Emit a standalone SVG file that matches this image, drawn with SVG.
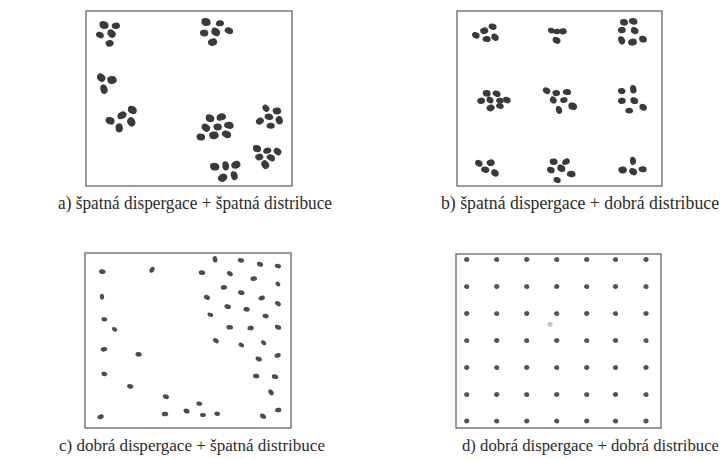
<svg xmlns="http://www.w3.org/2000/svg" xmlns:xlink="http://www.w3.org/1999/xlink" width="723" height="459" viewBox="0 0 723 459">
  <style>
    .frame { fill: none; stroke: #707070; stroke-width: 1.4; }
    .cap { font-family: "Liberation Serif", "Times New Roman", serif; font-size: 17.8px; fill: #2b2b2b; }
    .cap2 { font-family: "Liberation Serif", "Times New Roman", serif; font-size: 16.8px; fill: #2b2b2b; }
    .big { fill: #3a3a3a; }
    .mid { fill: #4d4d4d; }
    .dot { fill: #555555; }
  </style>
  <defs>
    <!-- irregular particle shapes -->
    <g id="p1" transform="scale(1.18)"><path d="M-4,-0.8 C-4.1,-2.9 -1.4,-3.6 0.8,-3.2 C3.2,-2.9 4.3,-0.9 3.9,1.1 C3.5,3 1.1,3.6 -1.1,3.2 C-3.1,2.9 -3.9,1.2 -4,-0.8Z"/></g>
    <g id="p2" transform="scale(1.18)"><path d="M-3.8,-1.5 C-3,-3.4 0,-3.3 2,-2.6 C3.9,-1.8 4.1,0.6 3.2,2.1 C2.1,3.6 -0.6,3.4 -2.3,2.6 C-3.9,1.7 -4.4,0.1 -3.8,-1.5Z"/></g>
    <g id="p3" transform="scale(1.18)"><path d="M-4.2,0 C-3.8,-2.4 -1.9,-3.1 0.4,-3 C2.8,-2.9 4,-1.5 4,0.4 C4,2.3 2.3,3.2 0,3 C-2.1,2.9 -4.4,2 -4.2,0Z"/></g>
    <g id="s1" transform="scale(1.1)"><path d="M-3,-0.3 C-3,-1.8 -1.2,-2.2 0.5,-2.1 C2.2,-2 3.1,-1 3,0.3 C2.9,1.7 1.3,2.2 -0.4,2.1 C-2,2 -3,1.2 -3,-0.3Z"/></g>
    <g id="s2" transform="scale(1.1)"><path d="M-2.8,-0.8 C-2.2,-2.2 0.2,-2.3 1.6,-1.7 C3,-1.1 3.1,0.6 2.3,1.5 C1.3,2.4 -0.8,2.3 -2,1.6 C-3,1 -3.2,0.2 -2.8,-0.8Z"/></g>
    <g id="d1" transform="scale(1.15)"><path d="M-2.3,0 C-2.3,-1.4 -1.2,-2.2 0.1,-2.2 C1.5,-2.2 2.3,-1.2 2.3,0.1 C2.3,1.4 1.3,2.2 0,2.2 C-1.3,2.2 -2.3,1.3 -2.3,0Z"/></g>
    <g id="d2" transform="scale(1.15)"><path d="M-2.2,-0.6 C-1.8,-1.9 -0.3,-2.3 1,-1.9 C2.2,-1.4 2.5,0.2 2,1.2 C1.3,2.3 -0.5,2.3 -1.5,1.6 C-2.3,1 -2.5,0.3 -2.2,-0.6Z"/></g>
  </defs>

  <!-- a) clustered particles, uneven placement -->
  <g id="panel-a">
    <rect class="frame" x="86" y="11" width="206" height="175"/>
    <g class="big">
      <use href="#p1" transform="translate(104,25) rotate(10)"/>
      <use href="#p2" transform="translate(116,25.7) rotate(-15) scale(0.9)"/>
      <use href="#p3" transform="translate(100,35) rotate(20) scale(0.85)"/>
      <use href="#p2" transform="translate(111.7,33.7) rotate(40)"/>
      <use href="#p1" transform="translate(109.7,43.3) rotate(-20) scale(0.85)"/>

      <use href="#p1" transform="translate(206,22) rotate(5)"/>
      <use href="#p3" transform="translate(220,23.3) rotate(-10) scale(0.85)"/>
      <use href="#p2" transform="translate(204.3,33) rotate(-5) scale(0.9)"/>
      <use href="#p1" transform="translate(215.7,32) rotate(30)"/>
      <use href="#p3" transform="translate(229,30.7) rotate(15) scale(0.9)"/>
      <use href="#p2" transform="translate(212.7,42) rotate(-25)"/>

      <use href="#p2" transform="translate(101.3,77.7) rotate(35)"/>
      <use href="#p1" transform="translate(112,80) rotate(-10)"/>
      <use href="#p3" transform="translate(104,89.3) rotate(70)"/>

      <use href="#p1" transform="translate(132.3,110) rotate(20)"/>
      <use href="#p3" transform="translate(122,115.3) rotate(-30)"/>
      <use href="#p2" transform="translate(110.3,120.7) rotate(10)"/>
      <use href="#p1" transform="translate(131.3,122) rotate(55)"/>
      <use href="#p2" transform="translate(119.3,128) rotate(75)"/>

      <use href="#p1" transform="translate(210,118.3) rotate(15) scale(0.95)"/>
      <use href="#p3" transform="translate(221.3,117) rotate(-20)"/>
      <use href="#p2" transform="translate(206,127.7) rotate(30)"/>
      <use href="#p1" transform="translate(217.7,127) rotate(-5) scale(0.9)"/>
      <use href="#p3" transform="translate(229,125.3) rotate(5)"/>
      <use href="#p2" transform="translate(201,137) rotate(0) scale(0.95)"/>
      <use href="#p1" transform="translate(214,135.3) rotate(-10)"/>
      <use href="#p3" transform="translate(226.7,134.3) rotate(20)"/>

      <use href="#p2" transform="translate(266,108.3) rotate(40) scale(0.85)"/>
      <use href="#p1" transform="translate(277,111) rotate(-10) scale(0.9)"/>
      <use href="#p3" transform="translate(269,116.7) rotate(10) scale(0.9)"/>
      <use href="#p2" transform="translate(260,121) rotate(-40) scale(0.9)"/>
      <use href="#p1" transform="translate(279.3,120.3) rotate(60) scale(0.9)"/>
      <use href="#p3" transform="translate(270.7,125.7) rotate(-5) scale(0.85)"/>

      <use href="#p1" transform="translate(257,148.7) rotate(10) scale(0.9)"/>
      <use href="#p3" transform="translate(267.3,150.7) rotate(-15) scale(0.85)"/>
      <use href="#p2" transform="translate(277.7,151.7) rotate(30) scale(0.9)"/>
      <use href="#p1" transform="translate(259.3,157) rotate(-20) scale(0.85)"/>
      <use href="#p3" transform="translate(271,157.7) rotate(25) scale(0.9)"/>
      <use href="#p2" transform="translate(265.3,164.7) rotate(50)"/>

      <use href="#p1" transform="translate(214.7,166.7) rotate(0)"/>
      <use href="#p3" transform="translate(225.7,166) rotate(80) scale(0.95)"/>
      <use href="#p2" transform="translate(236,164.7) rotate(-30)"/>
      <use href="#p1" transform="translate(222.7,177.7) rotate(-40)"/>
      <use href="#p3" transform="translate(234.3,175.7) rotate(70) scale(0.95)"/>
    </g>
  </g>

  <!-- b) clustered particles on a regular 3x3 layout -->
  <g id="panel-b">
    <rect class="frame" x="457" y="11" width="205" height="175"/>
    <g class="big">
      <use href="#p3" transform="translate(492.7,26.7) rotate(10) scale(0.85)"/>
      <use href="#p1" transform="translate(484.3,30.7) rotate(-20) scale(0.85)"/>
      <use href="#p2" transform="translate(476,35.3) rotate(15) scale(0.85)"/>
      <use href="#p3" transform="translate(486.7,39) rotate(0) scale(0.85)"/>
      <use href="#p1" transform="translate(495,37.3) rotate(30) scale(0.85)"/>

      <use href="#p2" transform="translate(551.5,30.5) rotate(10) scale(0.75)"/>
      <use href="#p3" transform="translate(557,31.5) rotate(0) scale(0.75)"/>
      <use href="#p1" transform="translate(563,31.3) rotate(-10) scale(0.8)"/>
      <use href="#p2" transform="translate(556.7,40.3) rotate(20) scale(0.9)"/>

      <use href="#p1" transform="translate(624,22.3) rotate(0) scale(0.85)"/>
      <use href="#p3" transform="translate(633.3,21.3) rotate(10) scale(0.9)"/>
      <use href="#p2" transform="translate(622,30) rotate(-10) scale(0.85)"/>
      <use href="#p1" transform="translate(634.7,30.7) rotate(20) scale(0.85)"/>
      <use href="#p3" transform="translate(621.7,40.3) rotate(60) scale(0.9)"/>
      <use href="#p2" transform="translate(632.7,42) rotate(-20) scale(0.95)"/>
      <use href="#p1" transform="translate(643,39.3) rotate(10) scale(0.85)"/>

      <use href="#p1" transform="translate(486.7,93.3) rotate(0) scale(0.85)"/>
      <use href="#p3" transform="translate(496.7,93.7) rotate(20) scale(0.85)"/>
      <use href="#p2" transform="translate(481.3,100.7) rotate(-10) scale(0.85)"/>
      <use href="#p1" transform="translate(490,100) rotate(30) scale(0.8)"/>
      <use href="#p3" transform="translate(500,100.5) rotate(0) scale(0.8)"/>
      <use href="#p2" transform="translate(507,100) rotate(15) scale(0.85)"/>
      <use href="#p1" transform="translate(490.7,108) rotate(-30) scale(0.85)"/>
      <use href="#p3" transform="translate(500,106) rotate(10) scale(0.8)"/>

      <use href="#p2" transform="translate(546.7,90.7) rotate(20) scale(0.85)"/>
      <use href="#p1" transform="translate(556.3,93) rotate(-10) scale(0.8)"/>
      <use href="#p3" transform="translate(567,92) rotate(0) scale(0.85)"/>
      <use href="#p1" transform="translate(553.3,100) rotate(40) scale(0.8)"/>
      <use href="#p2" transform="translate(564,100) rotate(-20) scale(0.8)"/>
      <use href="#p3" transform="translate(559,110) rotate(70) scale(0.85)"/>
      <use href="#p1" transform="translate(572.7,106.3) rotate(10) scale(0.95)"/>

      <use href="#p1" transform="translate(621.7,91) rotate(0) scale(0.8)"/>
      <use href="#p3" transform="translate(633.3,89.3) rotate(80) scale(0.9)"/>
      <use href="#p2" transform="translate(622,100.7) rotate(-10) scale(0.85)"/>
      <use href="#p1" transform="translate(634.3,100.7) rotate(10) scale(0.85)"/>
      <use href="#p3" transform="translate(629.3,110.7) rotate(0) scale(0.8)"/>
      <use href="#p2" transform="translate(643.3,107.3) rotate(20) scale(0.85)"/>

      <use href="#p2" transform="translate(479,163.3) rotate(20) scale(0.85)"/>
      <use href="#p1" transform="translate(490.7,162.7) rotate(-20) scale(0.85)"/>
      <use href="#p3" transform="translate(485.3,169.7) rotate(10) scale(0.85)"/>
      <use href="#p1" transform="translate(495,173) rotate(30) scale(0.85)"/>

      <use href="#p1" transform="translate(553.7,161.7) rotate(0) scale(0.85)"/>
      <use href="#p3" transform="translate(566,161.7) rotate(-30) scale(0.85)"/>
      <use href="#p2" transform="translate(551,170) rotate(10) scale(0.85)"/>
      <use href="#p1" transform="translate(561.3,168.3) rotate(20) scale(0.9)"/>
      <use href="#p3" transform="translate(571.3,174) rotate(0) scale(0.9)"/>
      <use href="#p2" transform="translate(557.3,180) rotate(10) scale(0.8)"/>

      <use href="#p3" transform="translate(633,161) rotate(80) scale(0.85)"/>
      <use href="#p1" transform="translate(622.7,170) rotate(-10) scale(0.9)"/>
      <use href="#p2" transform="translate(633.3,171.7) rotate(20) scale(0.9)"/>
      <use href="#p3" transform="translate(642.7,169.3) rotate(0) scale(0.85)"/>
    </g>
  </g>

  <!-- c) separate particles, uneven placement -->
  <g id="panel-c">
    <rect class="frame" x="85" y="253" width="206" height="175"/>
    <g class="mid">
      <use href="#s1" transform="translate(102.3,271.7) rotate(0)"/>
      <use href="#s2" transform="translate(152,269.7) rotate(-60)"/>
      <use href="#s1" transform="translate(215,259.3) rotate(80)"/>
      <use href="#s2" transform="translate(241,260.3) rotate(10)"/>
      <use href="#s1" transform="translate(260,264.3) rotate(20)"/>
      <use href="#s2" transform="translate(278,266) rotate(10)"/>
      <use href="#s1" transform="translate(202,272.7) rotate(0)"/>
      <use href="#s2" transform="translate(230,273.7) rotate(30)"/>
      <use href="#s1" transform="translate(253.7,278.7) rotate(-10)"/>
      <use href="#s2" transform="translate(278,284) rotate(40) scale(0.85)"/>
      <use href="#s1" transform="translate(102,296.7) rotate(80) scale(0.9)"/>
      <use href="#s2" transform="translate(224,287.3) rotate(-10)"/>
      <use href="#s1" transform="translate(241.3,292.7) rotate(10)"/>
      <use href="#s2" transform="translate(207,297.3) rotate(20)"/>
      <use href="#s1" transform="translate(261.7,298) rotate(-20)"/>
      <use href="#s2" transform="translate(278,303.7) rotate(30)"/>
      <use href="#s1" transform="translate(227.7,306.7) rotate(10)"/>
      <use href="#s2" transform="translate(246.7,309.3) rotate(0)"/>
      <use href="#s1" transform="translate(210.3,314.7) rotate(20) scale(0.9)"/>
      <use href="#s2" transform="translate(265.7,316) rotate(10)"/>
      <use href="#s1" transform="translate(104.3,319.3) rotate(10) scale(0.9)"/>
      <use href="#s2" transform="translate(114.7,329.3) rotate(30) scale(0.9)"/>
      <use href="#s1" transform="translate(229.7,327.3) rotate(0)"/>
      <use href="#s2" transform="translate(250.7,328) rotate(-10)"/>
      <use href="#s1" transform="translate(278,327.3) rotate(20)"/>
      <use href="#s2" transform="translate(216,340.7) rotate(30)"/>
      <use href="#s1" transform="translate(241.3,345) rotate(30) scale(0.9)"/>
      <use href="#s2" transform="translate(263.7,342.7) rotate(40) scale(0.9)"/>
      <use href="#s1" transform="translate(104,349.3) rotate(-10)"/>
      <use href="#s2" transform="translate(138.7,354.3) rotate(0)"/>
      <use href="#s1" transform="translate(258.7,359) rotate(20)"/>
      <use href="#s2" transform="translate(277.7,355.3) rotate(-20)"/>
      <use href="#s1" transform="translate(104.3,374) rotate(10) scale(0.9)"/>
      <use href="#s2" transform="translate(256.3,376) rotate(0)"/>
      <use href="#s1" transform="translate(275,376.7) rotate(10)"/>
      <use href="#s2" transform="translate(130.3,386.3) rotate(10)"/>
      <use href="#s1" transform="translate(271,392.3) rotate(50)"/>
      <use href="#s2" transform="translate(166,396.7) rotate(20)"/>
      <use href="#s1" transform="translate(199.3,403.7) rotate(10) scale(0.9)"/>
      <use href="#s2" transform="translate(100.7,416.7) rotate(-20)"/>
      <use href="#s1" transform="translate(165,414) rotate(0)"/>
      <use href="#s2" transform="translate(186.7,411) rotate(20)"/>
      <use href="#s1" transform="translate(203,415) rotate(0) scale(0.9)"/>
      <use href="#s2" transform="translate(217.3,413.7) rotate(10) scale(0.9)"/>
      <use href="#s1" transform="translate(263,416.3) rotate(30)"/>
      <use href="#s2" transform="translate(278.3,410) rotate(-10)"/>
    </g>
  </g>

  <!-- d) separate particles on a regular 7x7 grid -->
  <g id="panel-d">
    <rect class="frame" x="456" y="254" width="205" height="174"/>
    <g class="dot">
      <use href="#d1" x="466.7" y="259.5"/><use href="#d2" x="496.7" y="259.5"/><use href="#d1" x="526.7" y="259.5"/><use href="#d2" x="556.7" y="259.5"/><use href="#d1" x="586.7" y="259.5"/><use href="#d2" x="615.5" y="259.5"/><use href="#d1" x="646" y="259.5"/>
      <use href="#d2" x="466.7" y="286.5"/><use href="#d1" x="496.7" y="286.5"/><use href="#d2" x="526.7" y="286.5"/><use href="#d1" x="556.7" y="286.5"/><use href="#d2" x="586.7" y="286.5"/><use href="#d1" x="615.5" y="286.5"/><use href="#d2" x="646" y="286.5"/>
      <use href="#d1" x="466.7" y="313.5"/><use href="#d2" x="496.7" y="313.5"/><use href="#d1" x="526.7" y="313.5"/><use href="#d2" x="556.7" y="313.5"/><use href="#d1" x="586.7" y="313.5"/><use href="#d2" x="615.5" y="313.5"/><use href="#d1" x="646" y="313.5"/>
      <use href="#d2" x="466.7" y="340.5"/><use href="#d1" x="496.7" y="340.5"/><use href="#d2" x="526.7" y="340.5"/><use href="#d1" x="556.7" y="340.5"/><use href="#d2" x="586.7" y="340.5"/><use href="#d1" x="615.5" y="340.5"/><use href="#d2" x="646" y="340.5"/>
      <use href="#d1" x="466.7" y="367.5"/><use href="#d2" x="496.7" y="367.5"/><use href="#d1" x="526.7" y="367.5"/><use href="#d2" x="556.7" y="367.5"/><use href="#d1" x="586.7" y="367.5"/><use href="#d2" x="615.5" y="367.5"/><use href="#d1" x="646" y="367.5"/>
      <use href="#d2" x="466.7" y="394.5"/><use href="#d1" x="496.7" y="394.5"/><use href="#d2" x="526.7" y="394.5"/><use href="#d1" x="556.7" y="394.5"/><use href="#d2" x="586.7" y="394.5"/><use href="#d1" x="615.5" y="394.5"/><use href="#d2" x="646" y="394.5"/>
      <use href="#d1" x="466.7" y="421"/><use href="#d2" x="496.7" y="421"/><use href="#d1" x="526.7" y="421"/><use href="#d2" x="556.7" y="421"/><use href="#d1" x="586.7" y="421"/><use href="#d2" x="615.5" y="421"/><use href="#d1" x="646" y="421"/>
      <use href="#d2" x="550" y="324.3" opacity="0.35"/>
    </g>
  </g>

  <!-- captions -->
  <g id="captions">
    <text class="cap" x="58" y="209" textLength="274" lengthAdjust="spacingAndGlyphs">a) špatná dispergace + špatná distribuce</text>
    <text class="cap" x="441" y="209" textLength="278" lengthAdjust="spacingAndGlyphs">b) špatná dispergace + dobrá distribuce</text>
    <text class="cap2" x="59" y="451" textLength="266" lengthAdjust="spacingAndGlyphs">c) dobrá dispergace + špatná distribuce</text>
    <text class="cap2" x="462" y="451" textLength="257" lengthAdjust="spacingAndGlyphs">d) dobrá dispergace + dobrá distribuce</text>
  </g>
</svg>
